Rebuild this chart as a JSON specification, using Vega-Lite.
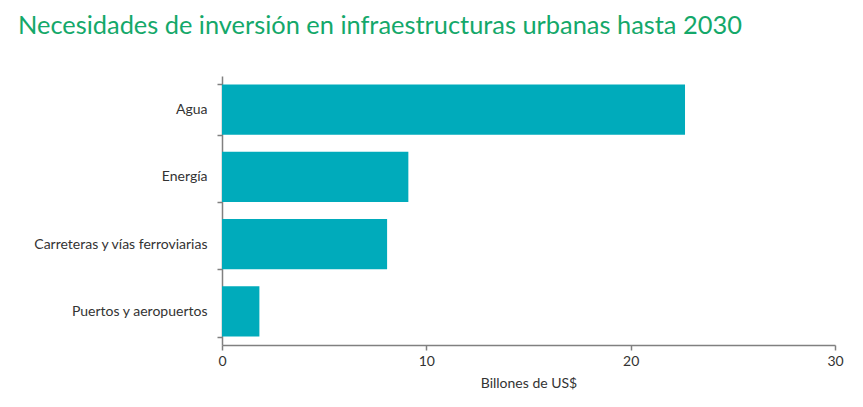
{
  "$schema": "https://vega.github.io/schema/vega-lite/v6.json",
  "autosize": {"type": "none"},
  "padding": {"left": 222, "top": 76, "right": 28, "bottom": 62},
  "width": 613,
  "height": 269,
  "background": "white",
  "title": {
    "text": "Necesidades de inversión en infraestructuras urbanas hasta 2030",
    "anchor": "start",
    "frame": "group",
    "dx": -204,
    "offset": 30,
    "font": "Lato",
    "fontSize": 25.4,
    "fontWeight": "normal",
    "color": "#14a86a"
  },
  "data": {
    "values": [
      {"categoria": "Agua", "valor": 22.66},
      {"categoria": "Energía", "valor": 9.12},
      {"categoria": "Carreteras y vías ferroviarias", "valor": 8.08},
      {"categoria": "Puertos y aeropuertos", "valor": 1.83}
    ]
  },
  "mark": {"type": "bar", "color": "#00abbb"},
  "encoding": {
    "y": {
      "field": "categoria",
      "type": "nominal",
      "sort": null,
      "scale": {"paddingInner": 0.25, "paddingOuter": 0.125},
      "axis": {
        "title": null,
        "tickBand": "extent",
        "domainColor": "#808080",
        "domainWidth": 1.5,
        "tickColor": "#808080",
        "tickWidth": 1.5,
        "tickSize": 5,
        "labelPadding": 10,
        "labelFont": "Lato",
        "labelFontSize": 14,
        "labelColor": "#333333"
      }
    },
    "x": {
      "field": "valor",
      "type": "quantitative",
      "scale": {"domain": [0, 30], "nice": false},
      "axis": {
        "title": "Billones de US$",
        "values": [0, 10, 20, 30],
        "grid": false,
        "labelFlush": false,
        "domainColor": "#808080",
        "domainWidth": 1.5,
        "tickColor": "#808080",
        "tickWidth": 1.5,
        "tickSize": 5,
        "labelPadding": 4,
        "labelFont": "Lato",
        "labelFontSize": 14,
        "labelColor": "#333333",
        "titleFont": "Lato",
        "titleFontSize": 14,
        "titleFontWeight": "normal",
        "titleColor": "#333333",
        "titlePadding": 8
      }
    }
  },
  "config": {"view": {"stroke": null}}
}
